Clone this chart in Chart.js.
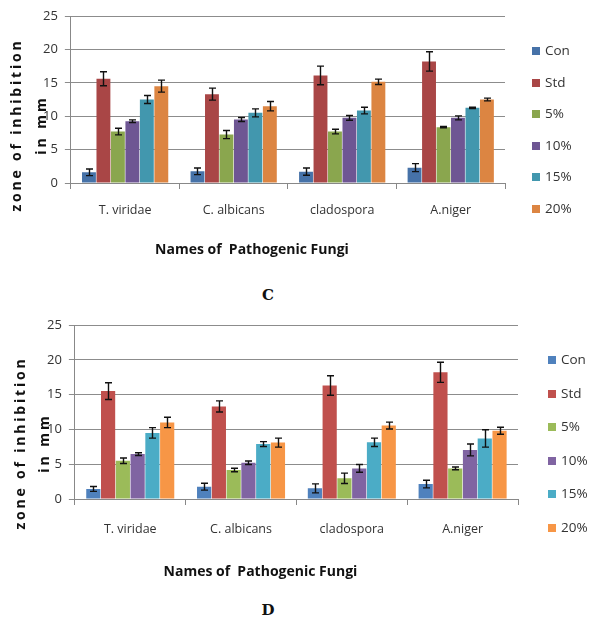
<!DOCTYPE html>
<html>
<head>
<meta charset="utf-8">
<script src="https://cdn.jsdelivr.net/npm/chart.js@4/dist/chart.umd.min.js"></script>
<style>
  body { margin: 0; width: 594px; height: 619px; background: #fff; position: relative; overflow: hidden; }
  .box { position: absolute; left: 0; width: 594px; }
  #boxC { top: 0; height: 258px; }
  #boxD { top: 304px; height: 282px; }
  .lbl { position: absolute; width: 40px; text-align: center; font: bold 15px 'DejaVu Serif', serif; color: #111; }
  #lblC { left: 248px; top: 286px; }
  #lblD { left: 248px; top: 601px; }
  .leg { position: absolute; height: 16px; line-height: 16px; font: 13.5px 'Open Sans', sans-serif; color: #333; white-space: nowrap; }
  .leg i { display: inline-block; width: 8px; height: 8px; margin-right: 5px; vertical-align: 0px; }
</style>
</head>
<body>
<div class="box" id="boxC"><canvas id="chartC"></canvas></div>
<div class="lbl" id="lblC">C</div>
<div class="box" id="boxD"><canvas id="chartD"></canvas></div>
<div class="lbl" id="lblD">D</div>
<script>
// categories and series names
var fungi = ['T. viridae', 'C. albicans', 'cladospora', 'A.niger'];
var groups = ['Con', 'Std', '5%', '10%', '15%', '20%'];
var yTicks = [0, 5, 10, 15, 20, 25];

// chart C : means and error (+/-)
var conC = [1.6, 1.75, 1.7, 2.3];
var stdC = [15.6, 13.3, 16.1, 18.2];
var p5C = [7.7, 7.25, 7.7, 8.35];
var p10C = [9.25, 9.5, 9.75, 9.75];
var p15C = [12.5, 10.5, 10.85, 11.25];
var p20C = [14.5, 11.5, 15.15, 12.5];
var conErrC = [0.5, 0.5, 0.55, 0.6];
var stdErrC = [1.05, 0.9, 1.4, 1.45];
var p5ErrC = [0.5, 0.6, 0.35, 0.1];
var p10ErrC = [0.2, 0.3, 0.35, 0.3];
var p15ErrC = [0.6, 0.6, 0.5, 0.1];
var p20ErrC = [0.9, 0.7, 0.4, 0.2];

// chart D
var conD = [1.44, 1.77, 1.53, 2.15];
var stdD = [15.5, 13.3, 16.3, 18.2];
var p5D = [5.5, 4.17, 2.97, 4.4];
var p10D = [6.45, 5.2, 4.4, 7.05];
var p15D = [9.5, 7.9, 8.15, 8.7];
var p20D = [11.0, 8.1, 10.55, 9.8];
var conErrD = [0.35, 0.5, 0.65, 0.55];
var stdErrD = [1.2, 0.8, 1.4, 1.45];
var p5ErrD = [0.4, 0.25, 0.75, 0.2];
var p10ErrD = [0.2, 0.25, 0.55, 0.85];
var p15ErrD = [0.75, 0.35, 0.6, 1.25];
var p20ErrD = [0.75, 0.65, 0.5, 0.5];

var colorsC = ['#4672a8', '#a94646', '#8aa64e', '#6e5693', '#4297ae', '#dc8542'];
var colorsD = ['#4f81bd', '#c0504d', '#9bbb59', '#8064a2', '#4bacc6', '#f79646'];

// draws the +/- bars on top of each bar
const errorBars = {
    id: 'errorBars',
    afterDatasetsDraw(chart) {
        const ctx = chart.ctx
        const y = chart.scales.y
        ctx.save()
        ctx.strokeStyle = '#111'
        ctx.lineWidth = 1.4
        chart.data.datasets.forEach((ds, i) => {
            chart.getDatasetMeta(i).data.forEach((bar, j) => {
                const hi = y.getPixelForValue(ds.data[j] + ds.errors[j])
                const lo = y.getPixelForValue(ds.data[j] - ds.errors[j])
                const x = Math.round(bar.x) + 0.5
                ctx.beginPath()
                ctx.moveTo(x, hi); ctx.lineTo(x, lo)
                ctx.moveTo(x - 3.5, hi); ctx.lineTo(x + 3.5, hi)
                ctx.moveTo(x - 3.5, lo); ctx.lineTo(x + 3.5, lo)
                ctx.stroke()
            })
        })
        ctx.restore()
    }
}

// axis titles placed like the original office chart
const axisTitles = {
    id: 'axisTitles',
    afterDraw(chart, args, opts) {
        const ctx = chart.ctx
        const a = chart.chartArea
        ctx.save()
        ctx.fillStyle = '#111'
        ctx.textAlign = 'center'
        ctx.textBaseline = 'middle'
        ctx.font = 'bold 14px "Open Sans"'
        ctx.fillText('Names of  Pathogenic Fungi', (a.left + a.right) / 2 - 36, opts.xTitleY)
        ctx.translate(opts.yTitleX, opts.yTitleY)
        ctx.rotate(-Math.PI / 2)
        ctx.letterSpacing = '2.8px'
        ctx.font = 'bold 14px "Open Sans"'
        ctx.fillText('zone of inhibition', 0, 0)
        ctx.letterSpacing = '3px'
        ctx.fillText('in mm', 0, opts.mmOffset)
        ctx.restore()
    }
}

// vertical legend built from the datasets
function buildLegend(chart, boxId, leg) {
    const box = document.getElementById(boxId)
    chart.data.datasets.forEach((ds, i) => {
        const d = document.createElement('div')
        d.className = 'leg'
        d.style.left = leg.x + 'px'
        d.style.top = (leg.y0 + i * leg.dy - 8) + 'px'
        const sw = document.createElement('i')
        sw.style.background = ds.backgroundColor
        d.appendChild(sw)
        d.appendChild(document.createTextNode(ds.label))
        box.appendChild(d)
    })
}

function createChart(id, boxId, series, errs, colors, geo) {
    const ctx = document.getElementById(id).getContext('2d')
    const chart = new Chart(ctx, {
        type: 'bar',
        data: {
            labels: fungi,
            datasets: groups.map((g, i) => ({
                label: g,
                data: series[i],
                errors: errs[i],
                backgroundColor: colors[i],
                borderWidth: 0,
                barPercentage: 0.96,
                categoryPercentage: 0.8
            }))
        },
        options: {
            responsive: true,
            maintainAspectRatio: false,
            animation: false,
            layout: { padding: geo.padding },
            plugins: {
                legend: { display: false },
                tooltip: { enabled: false },
                axisTitles: geo.titles
            },
            scales: {
                x: {
                    grid: { drawOnChartArea: false, color: '#888', tickLength: 6 },
                    border: { color: '#888' },
                    ticks: { color: '#333', padding: geo.xTickPad, font: { family: 'Open Sans', size: 12.5 } }
                },
                y: {
                    min: yTicks[0], max: yTicks[yTicks.length - 1],
                    afterBuildTicks: s => { s.ticks = yTicks.map(v => ({ value: v })) },
                    grid: { color: '#8c8c8c', tickLength: 6 },
                    border: { color: '#888' },
                    ticks: { color: '#333', padding: 7, font: { family: 'Open Sans', size: 13 } }
                }
            }
        },
        plugins: [errorBars, axisTitles]
    })
    buildLegend(chart, boxId, geo.legend)
}

createChart('chartC', 'boxC',
    [conC, stdC, p5C, p10C, p15C, p20C],
    [conErrC, stdErrC, p5ErrC, p10ErrC, p15ErrC, p20ErrC],
    colorsC,
    { padding: { top: 16, left: 36, bottom: 26, right: 89 }, xTickPad: 14,
      legend: { x: 532, y0: 49, dy: 31.6 },
      titles: { xTitleY: 250, yTitleX: 17, yTitleY: 125, mmOffset: 25 } })

createChart('chartD', 'boxD',
    [conD, stdD, p5D, p10D, p15D, p20D],
    [conErrD, stdErrD, p5ErrD, p10ErrD, p15ErrD, p20ErrD],
    colorsD,
    { padding: { top: 21, left: 40, bottom: 32, right: 76 }, xTickPad: 17,
      legend: { x: 548, y0: 54, dy: 33.6 },
      titles: { xTitleY: 268, yTitleX: 21, yTitleY: 139, mmOffset: 24 } })
</script>
</body>
</html>
